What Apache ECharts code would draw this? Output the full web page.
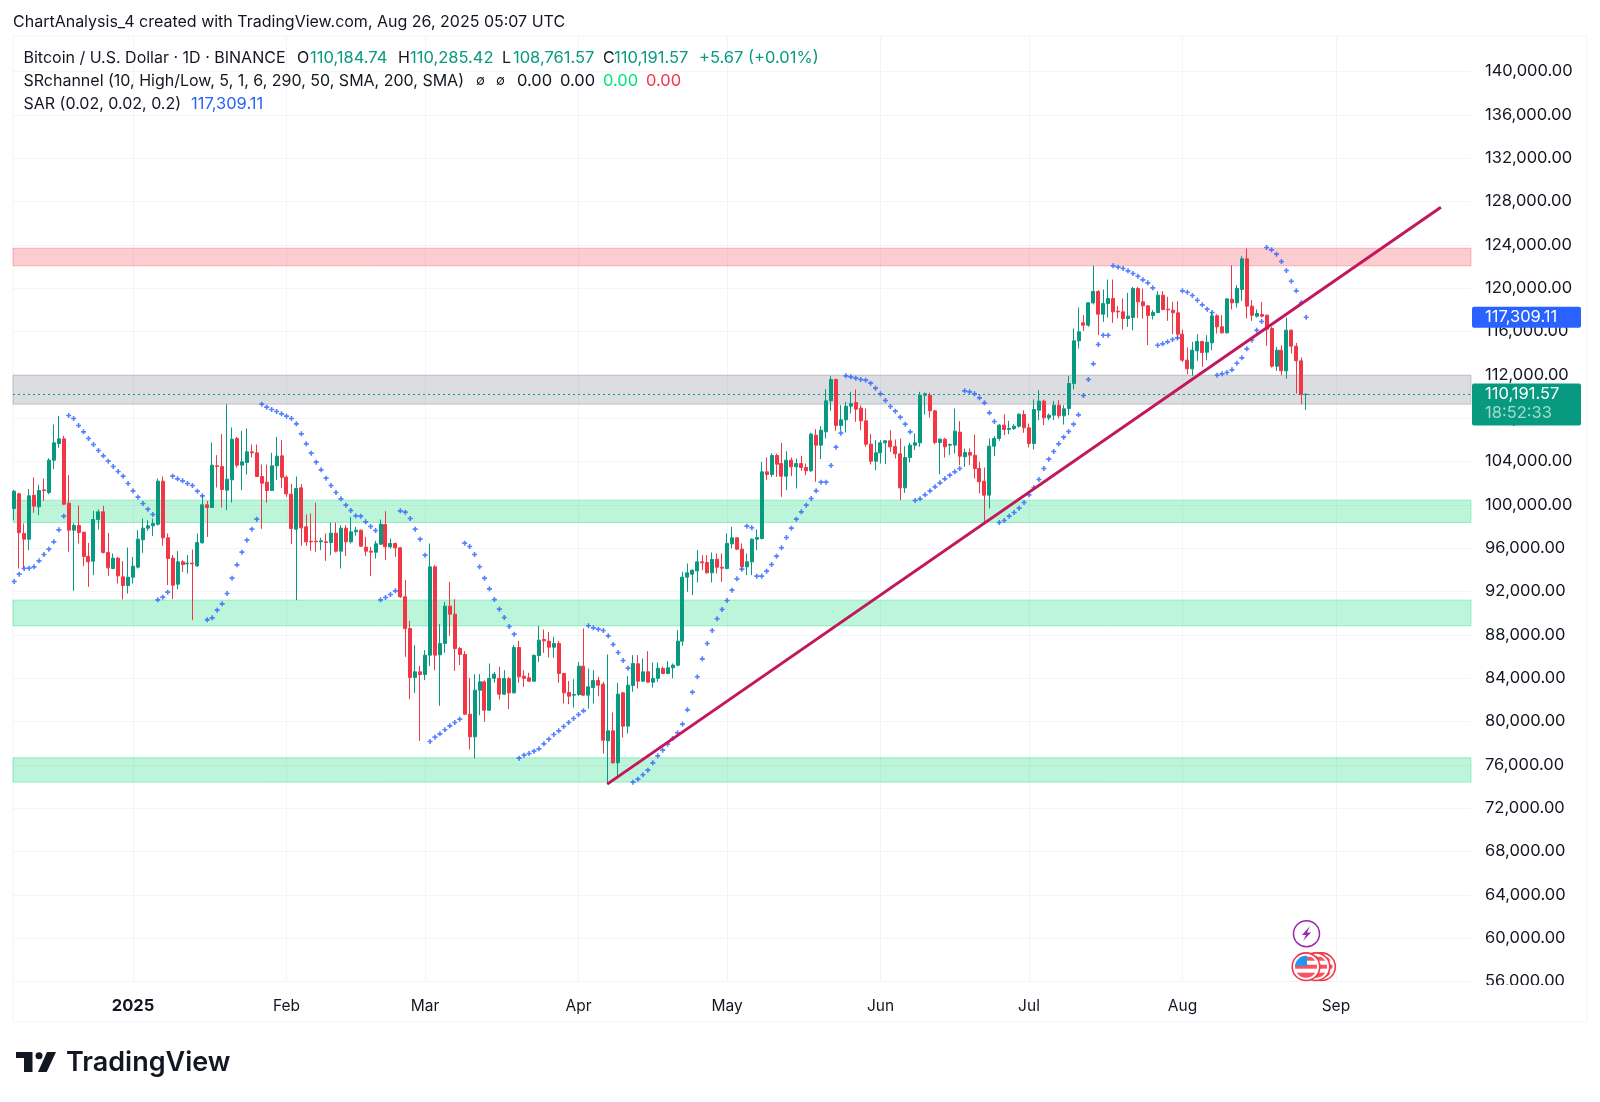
<!DOCTYPE html>
<html>
<head>
<meta charset="utf-8">
<title>BTCUSD</title>
<style>
html, body { margin: 0; padding: 0; background: #fff; }
#chart { width: 1600px; height: 1102px; }
</style>
<script src="https://cdn.jsdelivr.net/npm/echarts@6/dist/echarts.min.js"></script>
</head>
<body>
<div id="chart"></div>
<script>
// daily candles, each row is open, close, low, high
var dec2024 = [
[99662,101262,98585,101400],[101015,97415,94123,101108],[97354,96831,94123,98277],[96831,100831,95815,101446],
[100892,99877,99262,102523],[99815,101323,99046,101846],[101385,101323,100369,102431],[101139,104123,100985,104300],
[104123,105723,103292,107416],[105662,106092,105262,108216],[106092,100062,99969,106369],[100154,97662,95662,102738],
[97662,98092,92061,98300],[98092,97446,96431,99938],[97477,95231,94338,97477],[95231,94738,92431,96492],
[94800,98646,93508,99446],[98646,99354,97723,99569],[99354,95600,95508,99908],[95600,94185,93446,97415],
[94123,95077,94062,95508],[95077,93446,92738,95200],[93354,92553,91261,94800],[92553,93323,91815,96062]
];
var jan2025 = [
[93323,94338,92738,95200],[94246,96831,94123,97662],[96769,97846,95569,98738],[97846,98062,97600,98585],
[98062,98277,97108,98738],[98215,102185,98092,102431],[102185,96954,96215,102615],[96954,95046,92584,97354],
[95077,92584,91292,95354],[92677,94738,92215,95723],[94738,94492,93815,94892],[94554,94615,93661,95354],
[94615,94554,89354,95877],[94369,96523,94277,97354],[96492,100000,96431,100892],[100000,99754,97046,100369],
[99754,103662,99700,105754],[103600,103538,101600,104585],[103538,101415,99754,106523],[101354,102369,99508,109293],
[102308,106062,100215,107139],[106123,103662,103446,106277],[103662,103969,101354,106831],[103908,104892,102800,107046],
[104892,104800,104369,105569],[104800,102615,102585,105569],[102615,102000,97785,103723],[102092,101323,100185,103723],
[101323,103600,101300,104800],[103600,104492,102277,106277],[104523,102554,101569,105969]
];
var feb2025 = [
[102554,101015,100738,102700],[100985,97815,96369,101908],[97754,101508,91200,102615],[101569,97877,96215,101908],
[97969,96585,96215,99108],[96646,96585,95754,99200],[96646,96585,95662,100215],[96585,96677,95815,96954],
[96585,96523,94831,97354],[96523,97385,95354,98369],[97385,95723,95600,98369],[95723,97846,94123,98123],
[97846,96585,95292,98123],[96585,97508,96431,98892],[97508,97662,97169,97969],[97662,96185,96123,97723],
[96092,95723,95292,97046],[95723,95631,93415,96123],[95631,96400,95046,96677],[96369,98215,96300,98646],
[98185,96123,94892,99415],[96123,96431,95969,96892],[96431,96031,95200,96523],[96031,91507,91400,96123],
[91509,88586,85970,93047],[88586,84062,82062,89293],[84062,84585,82646,87047],[84585,84339,78216,85139]
];
var mar2025 = [
[84339,86124,83816,86586],[86124,94278,85109,96432],[94278,86124,84739,94432],[86155,87201,81447,88985],
[87201,90647,86339,91047],[90647,89909,87908,92893],[89909,86739,84678,91293],[86739,86186,85201,86893],
[86186,80678,80600,86493],[80678,78585,77416,84032],[78585,82893,76585,84370],[82893,83662,80585,84370],
[83662,81047,79970,83800],[81047,83981,80985,85355],[83981,84370,83601,84585],[83981,82524,82031,85047],
[82524,83981,82432,84739],[83950,82646,81139,84100],[82646,86832,82585,87047],[86832,84124,83570,87447],
[84186,83981,83201,84739],[84032,83724,83662,84493],[83724,86093,83700,86200],[86093,87509,85508,88832],
[87570,87447,86339,88493],[87416,86862,85908,88278],[86862,87201,85878,87816],[87201,84432,83570,87447],
[84432,82646,81662,84493],[82678,82339,81601,83724],[82432,82493,81293,83908]
];
var apr2025 = [
[82493,85109,82370,85508],[85109,82432,82370,88586],[82432,83201,81201,84893],[83139,83785,81662,84739],
[83785,83354,82339,84124],[83447,78278,77047,83662],[78216,79139,74216,86186],[79139,76185,76100,80832],
[76185,82524,74739,83570],[82646,79570,78524,82739],[79570,83354,78893,84186],[83324,85355,82739,86124],
[85324,83724,83047,86124],[83724,84585,83662,85816],[84585,83631,83601,86493],[83631,83981,83139,85447],
[83981,84924,83662,85447],[84893,84432,84370,85047],[84432,84955,84370,85570],[84955,85201,83981,85355],
[85201,87416,85100,88432],[87416,93324,86985,93816],[93324,93724,91970,94586],[93601,93970,91662,94032],
[93909,94739,92832,95817],[94739,94647,93970,95355],[94678,93724,93663,95355],[93724,94955,92832,95601],
[94986,94247,93663,95509],[94247,94155,92893,95509]
];
var may2025 = [
[94124,96432,94050,97355],[96401,96955,95970,97970],[96955,95909,95817,97000],[95909,94278,93909,96432],
[94278,94739,93509,95509],[94739,96832,93509,96900],[96832,96986,95817,97724],[96892,103046,96800,103969],
[103046,102800,102277,104369],[102800,104554,102585,104738],[104554,103754,102585,104738],[103815,102646,100738,105723],
[102646,104123,101354,104954],[104123,103507,102646,104369],[103507,103815,101507,104277],[103815,103446,103138,104523],
[103446,103138,102738,103815],[103138,106523,103050,106646],[106431,105508,102123,106985],[105508,106892,104215,107262],
[106738,109600,106123,110677],[109600,111569,108677,111877],[111569,107323,106831,111662],[107323,107846,106831,109200],
[107846,109108,106677,109508],[109108,109354,108431,110431],[109446,108831,107661,110646],[108923,107754,106892,109200],
[107754,105600,105354,108892],[105600,104031,103723,106523],[104031,104800,103200,105969]
];
var jun2025 = [
[104800,105723,103815,105969],[105723,105907,103754,105969],[105907,105354,104892,106892],[105385,104707,104277,106031],
[104707,101569,100431,106123],[101569,104369,101107,105415],[104369,105508,103908,105723],[105508,105723,105046,106585],
[105723,110123,105354,110431],[110123,110246,108338,110369],[110123,108677,108031,110369],[108677,105754,105600,108750],
[105754,106062,102830,106123],[106062,105354,104369,106185],[105508,105569,104585,105661],[105508,106800,104738,108892],
[106708,104492,103661,107723],[104431,104831,103507,105200],[104831,104585,103661,105200],[104585,103354,102431,106492],
[103354,102123,101046,103969],[102185,100892,98369,103446],[100892,105415,99661,106123],[105415,106123,104492,106338],
[106123,107354,105907,107446],[107354,106954,106431,108369],[106954,107046,106523,107754],[107046,107262,106900,107446],
[107262,108369,107138,108431],[108338,107107,106646,108738]
];
var jul2025 = [
[107107,105661,105292,107508],[105661,108800,105108,109723],[108738,109569,107815,110585],[109569,108031,107354,109723],
[108031,108277,107815,108431],[108277,109200,107815,109600],[109200,108215,107969,109661],[108215,108862,107415,109200],
[108891,111199,108276,111907],[111199,115137,110645,116276],[115137,115968,114430,118214],[116799,116583,116060,117507],
[116583,118645,116430,118700],[118645,119691,118500,122061],[119691,117599,115660,119814],[117599,118584,116891,119876],
[118584,119045,117291,120799],[119045,117814,116799,120799],[117876,117814,117199,118337],[117814,117199,116184,119045],
[117199,117415,116430,119568],[117291,119968,116122,120122],[119968,118737,117261,120122],[118737,118368,117199,119968],
[118368,117476,114737,118430],[117476,117753,117107,117968],[117753,119353,117700,119722],[119353,118030,117968,119722],
[118060,117999,116984,119199],[117968,117722,115753,118737],[117722,115753,115199,118799]
];
var aug2025 = [
[115753,113353,113199,116184],[113353,112553,112060,114522],[112553,114276,111907,115045],[114214,115076,113291,115753],
[115076,114060,112737,115150],[114091,115014,113353,115660],[114953,117445,114276,117814],[117445,116430,115814,117599],
[116430,115876,115814,117507],[115876,119014,115814,119045],[118984,118645,118030,122122],[118645,119968,118214,120276],
[119876,122707,118830,122953],[122707,118337,117199,123661],[118337,117507,116984,118891],[117415,117661,117291,118030],
[117568,117415,117291,118737],[117507,116214,114676,117550],[116276,112799,112676,116430],[112799,114276,112368,114584],
[114276,112368,111968,114737],[112368,116122,111660,117291],[116122,114645,113968,116184],[114645,113291,110276,114953],
[113291,110184.74,109292,113599],[110184.74,110191.57,108761.57,110285.42]
];

// parabolic SAR, one dot per day from the first candle on
var sarValues = [
92923,93600,94123,94154,94277,94831,95415,95908,96585,97692,98954,108246,107969,107323,106739,106123,105569,105015,104523,104031,103539,103077,102646,101969,
101292,100708,100123,99600,99108,91231,91477,91938,102646,102400,102215,101969,101785,101262,100831,89385,89569,90277,90861,91815,93231,94462,95631,96738,97754,98677,109293,109015,108800,108615,108400,
108185,107969,107477,106554,105631,104770,103938,103231,102462,101785,101139,100554,99969,99477,98985,98954,98431,98000,97631,91231,91446,91723,92061,99447,99324,98740,97755,96832,
95355,78154,78554,78862,79232,79600,79908,80216,96463,96155,95416,94278,93232,92247,91263,90370,89601,88770,88062,76616,76893,77047,77262,77477,77939,78370,78801,79139,79540,79908,80278,
80647,80985,88832,88647,88524,88401,87908,87109,86370,85632,84924,74401,74677,75078,75508,76185,76831,77354,77908,78431,78955,79755,81077,82708,84124,85785,87201,88401,89478,90339,
91170,92124,93170,94063,98032,97878,93416,93416,93878,94493,95263,96032,96984,97846,98677,99354,99969,100584,101292,102092,102092,103630,105323,106615,111908,111815,111692,111569,111508,111231,110769,
110246,109631,109077,108646,108092,107446,106738,100400,100554,100923,101292,101661,102031,102400,102738,103046,103354,110523,110431,110246,109877,109415,108492,107692,98369,98554,98954,99292,99692,100215,
100923,101600,102338,103354,104215,104923,105631,106246,106769,107446,108308,110092,111569,113015,114799,115660,115660,122061,121938,121814,121599,121353,121107,120768,120491,120030,114737,114860,115045,115261,115414,
119753,119630,119322,118891,118461,118061,117753,111968,112091,112214,112461,113076,113568,114399,115199,116122,116922,123753,123538,123138,122461,121630,120645,119753,118645,117309.11
];

var priceTicks = [56000,60000,64000,68000,72000,76000,80000,84000,88000,92000,96000,100000,104000,108000,112000,116000,120000,124000,128000,132000,136000,140000];
var monthTicks = [Date.UTC(2025,0,1),Date.UTC(2025,1,1),Date.UTC(2025,2,1),Date.UTC(2025,3,1),Date.UTC(2025,4,1),Date.UTC(2025,5,1),Date.UTC(2025,6,1),Date.UTC(2025,7,1),Date.UTC(2025,8,1)];
var monthLabels = ['2025','Feb','Mar','Apr','May','Jun','Jul','Aug','Sep'];

// support and resistance zones [bottom, top]
var redZone = [122058,123690];
var greyZone = [109293,111970];
var greenZones = [[98374,100432],[88830,91202],[74404,76647]];

var trendDates = [Date.UTC(2025,3,6,19),Date.UTC(2025,8,22,5)];
var trendPrices = [74219,127476];

var lastClose = 110191.57;
var lastSar = 117309.11;

var GREEN = '#089981', RED = '#f23645', BLUE = '#2962ff', TEXT = '#131722';
var FONT = 'Inter, "Noto Sans", sans-serif';
var DAY = 86400000;
var firstDay = Date.UTC(2024,11,8);

var candles = [].concat(dec2024,jan2025,feb2025,mar2025,apr2025,may2025,jun2025,jul2025,aug2025);

var candleData = [], sarData = [];
for (var i = 0; i < candles.length; i++) {
    var t = firstDay + i * DAY;
    candleData.push([t, candles[i][0], candles[i][1], candles[i][2], candles[i][3]]);
    sarData.push([t, sarValues[i]]);
}

function money(v) {
    return v.toLocaleString('en-US', { minimumFractionDigits: 2, maximumFractionDigits: 2 });
}

function zone(range, fill, line) {
    return [
        { yAxis: range[0], itemStyle: { color: fill, borderColor: line, borderWidth: 1 } },
        { yAxis: range[1] }
    ];
}

var zoneAreas = [zone(redZone, 'rgba(242,54,69,0.25)', 'rgba(242,54,69,0.3)'),
    zone(greyZone, 'rgba(120,123,134,0.26)', 'rgba(120,123,134,0.35)')];
greenZones.forEach(function(z) {
    zoneAreas.push(zone(z, 'rgba(34,221,130,0.3)', 'rgba(34,221,130,0.4)'));
});

var chart = echarts.init(document.getElementById('chart'));

chart.setOption({
    animation: false,
    backgroundColor: '#fff',
    textStyle: { fontFamily: FONT },
    grid: { left: 13, right: 129, top: 36, bottom: 120 },
    xAxis: {
        // value axis holding timestamps, so the month lines can be placed by hand
        type: 'value',
        min: Date.UTC(2024,11,7,18),
        max: Date.UTC(2025,8,28,7),
        axisLine: { show: false },
        axisTick: { show: false, customValues: monthTicks },
        splitLine: { show: true, lineStyle: { color: '#f3f4f6', width: 1 } },
        axisLabel: {
            customValues: monthTicks,
            margin: 16,
            fontSize: 15.5,
            fontFamily: FONT,
            color: TEXT,
            formatter: function(v) {
                var s = monthLabels[monthTicks.indexOf(+v)];
                return s === '2025' ? '{b|' + s + '}' : s;
            },
            rich: { b: { fontWeight: 700, fontSize: 16.5, fontFamily: FONT, color: TEXT } }
        }
    },
    yAxis: {
        type: 'value',
        position: 'right',
        min: 55954,
        max: 143277,
        axisLine: { show: false },
        axisTick: { show: false, customValues: priceTicks },
        splitLine: { show: true, lineStyle: { color: '#f3f4f6', width: 1 } },
        axisLabel: {
            customValues: priceTicks,
            margin: 14,
            fontSize: 16.5,
            fontFamily: FONT,
            color: TEXT,
            formatter: function(v) { return money(v); }
        }
    },
    series: [
        {
            name: 'Zones',
            type: 'line',
            z: 1,
            data: [],
            markArea: { silent: true, data: zoneAreas }
        },
        {
            name: 'BTCUSD',
            type: 'candlestick',
            z: 3,
            barWidth: 3.5,
            data: candleData,
            itemStyle: { color: GREEN, color0: RED, borderColor: GREEN, borderColor0: RED, borderWidth: 1 },
            markLine: {
                silent: true,
                symbol: 'none',
                label: { show: false },
                lineStyle: { color: GREEN, type: [2, 3], width: 1 },
                data: [{ yAxis: lastClose }]
            }
        },
        {
            name: 'SAR',
            type: 'scatter',
            z: 4,
            symbol: 'path://M1.7 0h1.6v1.7h1.7v1.6h-1.7v1.7h-1.6v-1.7h-1.7v-1.6h1.7z',
            symbolSize: 5,
            itemStyle: { color: BLUE },
            data: sarData
        },
        {
            name: 'Trend',
            type: 'line',
            z: 5,
            showSymbol: false,
            lineStyle: { color: '#c2185b', width: 3 },
            data: [[trendDates[0], trendPrices[0]], [trendDates[1], trendPrices[1]]]
        }
    ]
});

function flagIcon(cx, cy) {
    var svg = '<svg xmlns="http://www.w3.org/2000/svg" width="30" height="30" viewBox="0 0 30 30">' +
        '<defs><clipPath id="c"><circle cx="15" cy="15" r="11"/></clipPath></defs>' +
        '<circle cx="15" cy="15" r="13.8" fill="#fff" stroke="#f23645" stroke-width="1.6"/>' +
        '<g clip-path="url(#c)"><rect x="3" y="3" width="24" height="24" fill="#fff"/>' +
        '<rect x="3" y="13" width="24" height="4" fill="#f7525f"/><rect x="3" y="21" width="24" height="6" fill="#f7525f"/>' +
        '<rect x="15" y="5" width="12" height="4" fill="#f7525f"/><rect x="3" y="3" width="13" height="11" fill="#2196f3"/></g></svg>';
    return {
        type: 'image', z: 20,
        style: { image: 'data:image/svg+xml;charset=utf-8,' + encodeURIComponent(svg), x: cx - 15, y: cy - 15, width: 30, height: 30 }
    };
}

function priceTag(top, h, color) {
    return { type: 'rect', z: 30, shape: { x: 1472, y: top, width: 109, height: h, r: 2 }, style: { fill: color } };
}

function plainText(x, y, text, size, color, weight) {
    return {
        type: 'text', z: 30, x: x, y: y,
        style: { text: text, fill: color, fontFamily: FONT, fontSize: size, fontWeight: weight || 400, verticalAlign: 'middle' }
    };
}

var ySar = chart.convertToPixel({ yAxisIndex: 0 }, lastSar);
var yLast = chart.convertToPixel({ yAxisIndex: 0 }, lastClose);

chart.setOption({
    graphic: [
        // pane frame
        { type: 'rect', z: 0, shape: { x: 13, y: 36, width: 1574, height: 986 }, style: { fill: 'none', stroke: '#f0f3fa', lineWidth: 1 } },
        // cuts the bottom price label at the pane edge
        { type: 'rect', z: 10, shape: { x: 1473, y: 985, width: 113, height: 36 }, style: { fill: '#fff' } },

        plainText(13, 22, 'ChartAnalysis_4 created with TradingView.com, Aug 26, 2025 05:07 UTC', 16, TEXT),

        // legend rows
        plainText(23.5, 58, 'Bitcoin / U.S. Dollar · 1D · BINANCE', 16, TEXT),
        plainText(297, 58, 'O', 16, TEXT),
        plainText(310, 58, '110,184.74', 16.5, GREEN),
        plainText(398, 58, 'H', 16, TEXT),
        plainText(410, 58, '110,285.42', 16.5, GREEN),
        plainText(502, 58, 'L', 16, TEXT),
        plainText(513, 58, '108,761.57', 16.5, GREEN),
        plainText(603, 58, 'C', 16, TEXT),
        plainText(614, 58, '110,191.57', 16.5, GREEN),
        plainText(699, 58, '+5.67 (+0.01%)', 16.5, GREEN),

        plainText(23.5, 81, 'SRchannel (10, High/Low, 5, 1, 6, 290, 50, SMA, 200, SMA)', 16, TEXT),
        plainText(476, 81, '∅', 13, TEXT),
        plainText(496, 81, '∅', 13, TEXT),
        plainText(517, 81, '0.00', 16.5, TEXT),
        plainText(560, 81, '0.00', 16.5, TEXT),
        plainText(603, 81, '0.00', 16.5, '#00e676'),
        plainText(646, 81, '0.00', 16.5, RED),

        plainText(23.5, 104, 'SAR (0.02, 0.02, 0.2)', 16, TEXT),
        plainText(191, 104, money(lastSar), 16.5, BLUE),

        priceTag(ySar - 10.5, 21, BLUE),
        plainText(1485, ySar, money(lastSar), 16.5, '#fff'),
        priceTag(yLast - 11, 42, GREEN),
        plainText(1485, yLast, money(lastClose), 16.5, '#fff'),
        plainText(1485, yLast + 18.5, '18:52:33', 16.5, '#a5dccb'),

        // event markers
        { type: 'circle', z: 20, shape: { cx: 1306.5, cy: 933.7, r: 13 }, style: { fill: '#fff', stroke: '#9c27b0', lineWidth: 1.5 } },
        { type: 'polygon', z: 21, shape: { points: [[1310,926],[1302,935],[1306,935],[1303,941],[1311,932.5],[1307,932.5]] }, style: { fill: '#9c27b0' } },
        flagIcon(1321.5, 966.7),
        flagIcon(1316, 966.7),
        flagIcon(1306, 966.7),

        // logo
        { type: 'polygon', z: 20, shape: { points: [[16,1052],[32.5,1052],[32.5,1072],[24,1072],[24,1058],[16,1058]] }, style: { fill: '#131722' } },
        { type: 'circle', z: 20, shape: { cx: 39, cy: 1055.7, r: 3.5 }, style: { fill: '#131722' } },
        { type: 'polygon', z: 20, shape: { points: [[47,1052],[56,1052],[46.7,1072],[38,1072]] }, style: { fill: '#131722' } },
        plainText(66, 1063, 'TradingView', 27, '#131722', 600)
    ]
});
</script>
</body>
</html>
